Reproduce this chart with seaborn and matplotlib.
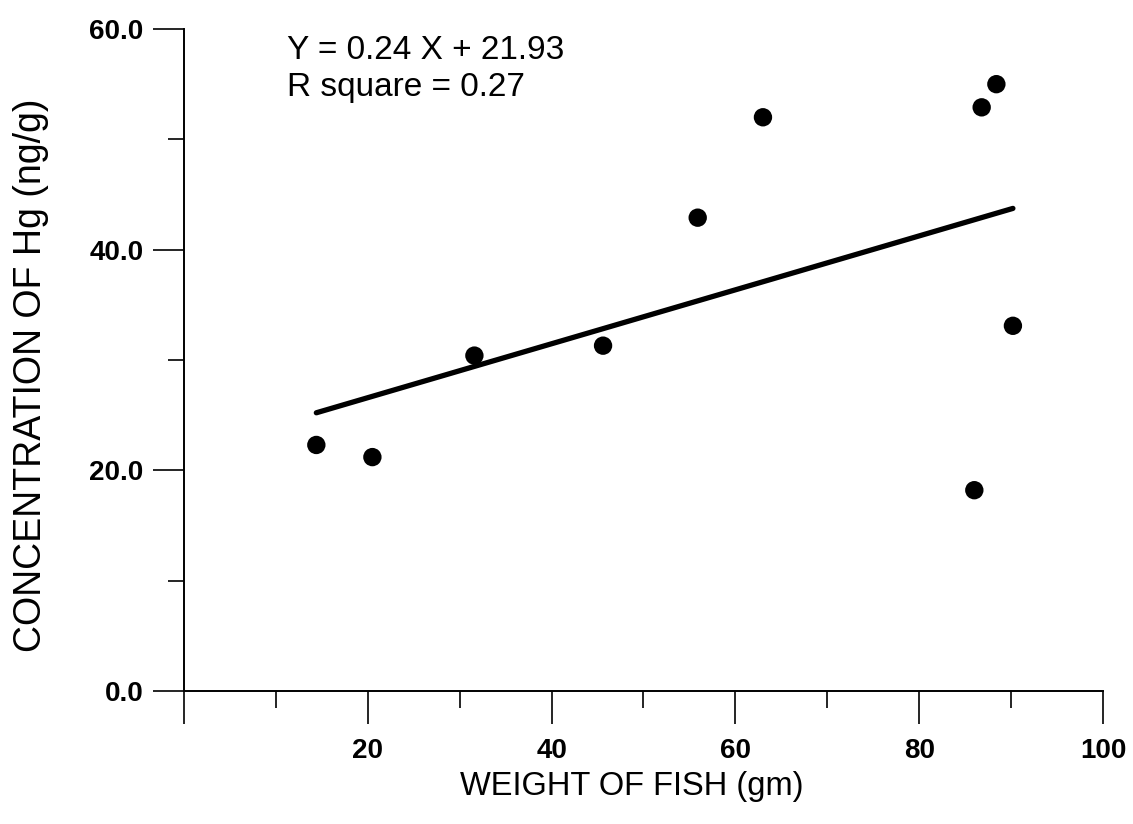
import matplotlib
matplotlib.use("Agg")
import matplotlib.pyplot as plt
import seaborn as sns
import pandas as pd
from matplotlib.ticker import FixedLocator

# Data
weight_gm = [14.4, 20.5, 31.6, 45.6, 55.9, 63.0, 86.8, 88.4, 90.2, 86.0]
hg_ng_g = [22.3, 21.2, 30.4, 31.3, 42.9, 52.0, 52.9, 55.0, 33.1, 18.2]

x_major = [0, 20, 40, 60, 80, 100]
x_major_labels = ["", "20", "40", "60", "80", "100"]
x_minor = [10, 30, 50, 70, 90]
y_major = [0, 20, 40, 60]
y_major_labels = ["0.0", "20.0", "40.0", "60.0"]
y_minor = [10, 30, 50]

equation_lines = ["Y = 0.24 X + 21.93", "R square = 0.27"]
x_label = "WEIGHT OF FISH (gm)"
y_label = "CONCENTRATION OF Hg (ng/g)"

sns.set_style("ticks")
plt.rcParams["font.family"] = ["Liberation Sans", "DejaVu Sans"]
plt.rcParams["text.color"] = "black"
plt.rcParams["axes.labelcolor"] = "black"
plt.rcParams["xtick.color"] = "black"
plt.rcParams["ytick.color"] = "black"

df = pd.DataFrame({"weight": weight_gm, "hg": hg_ng_g})

fig = plt.figure(figsize=(11.33, 8.24), dpi=100)
ax = fig.add_axes([0.1624, 0.1614, 0.9735 - 0.1624, 0.9648 - 0.1614])

sns.regplot(data=df, x="weight", y="hg", ax=ax, ci=None, truncate=True,
            color="black",
            scatter_kws={"s": 175, "color": "black", "edgecolor": "none", "alpha": 1},
            line_kws={"color": "black", "linewidth": 3.8, "solid_capstyle": "round"})

ax.set_xlim(0, 100)
ax.set_ylim(0, 60)
for s in ["top", "right"]:
    ax.spines[s].set_visible(False)
for s in ["left", "bottom"]:
    ax.spines[s].set_linewidth(1.4)
    ax.spines[s].set_color("black")

ax.set_xticks(x_major)
ax.set_xticklabels(x_major_labels, fontsize=20, fontweight="bold", color="black")
ax.xaxis.set_minor_locator(FixedLocator(x_minor))
ax.set_yticks(y_major)
ax.set_yticklabels(y_major_labels, fontsize=20, fontweight="bold", color="black")
ax.yaxis.set_minor_locator(FixedLocator(y_minor))

ax.tick_params(axis="x", which="major", length=24, width=1.2, direction="out", pad=10, colors="black")
ax.tick_params(axis="x", which="minor", length=12, width=1.2, direction="out", colors="black")
ax.tick_params(axis="y", which="major", length=22, width=1.2, direction="out", pad=7, colors="black")
ax.tick_params(axis="y", which="minor", length=11.5, width=1.2, direction="out", colors="black")

ax.set_xlabel(x_label, fontsize=23.5, color="black")
ax.set_ylabel(y_label, fontsize=27, color="black")
ax.xaxis.set_label_coords(0.4875, -0.121)
ax.yaxis.set_label_coords(-0.147, 0.477)

ax.text(11.2, 57.3, equation_lines[0], fontsize=24, ha="left", va="baseline", color="black")
ax.text(11.2, 53.9, equation_lines[1], fontsize=24, ha="left", va="baseline", color="black")

fig.savefig("out.png", dpi=100, facecolor="white")
